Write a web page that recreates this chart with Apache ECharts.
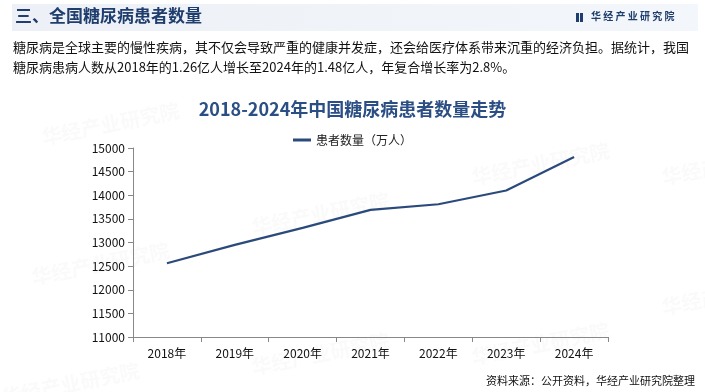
<!DOCTYPE html>
<html><head><meta charset="utf-8">
<script src="https://cdn.jsdelivr.net/npm/echarts@6/dist/echarts.min.js"></script>
<style>html,body{margin:0;padding:0;background:#fff;}#c{width:705px;height:392px;}</style>
</head><body><div id="c"></div>
<script>
const categories = ['2018年','2019年','2020年','2021年','2022年','2023年','2024年'];
const patients = [12560, 12950, 13310, 13690, 13810, 14100, 14810];
const seriesName = '患者数量（万人）';
const headerTitle = '三、全国糖尿病患者数量';
const brand = '华经产业研究院';
const para1 = '糖尿病是全球主要的慢性疾病，其不仅会导致严重的健康并发症，还会给医疗体系带来沉重的经济负担。据统计，我国';
const para2 = '糖尿病患病人数从2018年的1.26亿人增长至2024年的1.48亿人，年复合增长率为2.8%。';
const chartTitle = '2018-2024年中国糖尿病患者数量走势';
const sourceText = '资料来源：公开资料，华经产业研究院整理';

const font = '"Noto Sans CJK SC", "Microsoft YaHei", sans-serif';
const chart = echarts.init(document.getElementById('c'), null, {renderer:'canvas'});

const wm = [[40,100],[250,190],[470,140],[30,240],[470,320],[0,360],[250,330],[660,140],[660,270]];
const watermarks = wm.map(p => ({
  type:'text', left:p[0], top:p[1], rotation:0.2, z:0,
  style:{text:brand, fill:'rgba(200,205,215,0.09)', font:'bold 20px '+font}
}));

chart.setOption({
  animation:false,
  textStyle:{fontFamily:font},
  graphic:[
    {type:'rect', shape:{x:12,y:4,width:686,height:27}, style:{fill:new echarts.graphic.LinearGradient(0,0,1,0,[{offset:0,color:'#edf1f7'},{offset:1,color:'#f3f6fa'}])}, z:1},
    {type:'text', left:15, top:7, z:2, style:{text:headerTitle, fill:'#1f3e6d', font:'bold 17px '+font}},
    {type:'rect', shape:{x:576,y:13,width:3,height:9}, style:{fill:'#1f3e6d'}, z:2},
    {type:'rect', shape:{x:580,y:13,width:3,height:9}, style:{fill:'#1f3e6d'}, z:2},
    {type:'text', left:591, top:11, z:2, style:{text:'华 经 产 业 研 究 院', fill:'#1f3e6d', font:'bold 10px '+font}},
    {type:'text', left:13, top:41, z:2, style:{text:para1, fill:'#111', font:'13px '+font}},
    {type:'text', left:13, top:61, z:2, style:{text:para2, fill:'#111', font:'13px '+font}},
    {type:'text', right:10, top:375, z:2, style:{text:sourceText, fill:'#111', font:'11px '+font}},
    ...watermarks
  ],
  title:{text:chartTitle, left:'center', top:95, textStyle:{color:'#2b4f84', fontSize:18, fontWeight:'bold', fontFamily:font}},
  legend:{top:129, left:'center', itemWidth:18, itemHeight:3, icon:'rect', textStyle:{color:'#222', fontSize:12, fontFamily:font}, data:[seriesName]},
  grid:{left:133, right:97, top:148, bottom:55, containLabel:false},
  xAxis:{type:'category', data:categories, boundaryGap:true,
    axisLine:{lineStyle:{color:'#888'}}, axisTick:{show:true, lineStyle:{color:'#888'}},
    axisLabel:{color:'#111', fontSize:12, margin:10, fontFamily:font}},
  yAxis:{type:'value', min:11000, max:15000, interval:500,
    axisLine:{show:true, lineStyle:{color:'#888'}}, axisTick:{show:true, lineStyle:{color:'#888'}},
    splitLine:{show:false},
    axisLabel:{color:'#111', fontSize:12, margin:8, fontFamily:font, formatter:v => String(v)}},
  series:[{name:seriesName, type:'line', data:patients, symbol:'none', z:5,
    lineStyle:{color:'#2b4a7c', width:2.2}, itemStyle:{color:'#2b4a7c'}}]
});
</script></body></html>
